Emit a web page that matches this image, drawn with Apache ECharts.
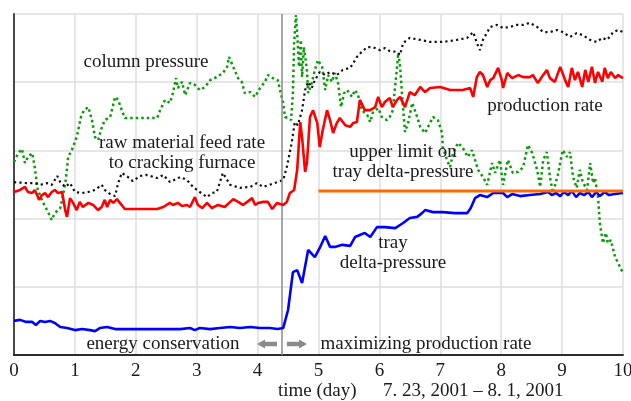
<!DOCTYPE html>
<html>
<head>
<meta charset="utf-8">
<script src="https://cdn.jsdelivr.net/npm/echarts@6/dist/echarts.min.js"></script>
<style>
html,body{margin:0;padding:0;background:#fff;}
#c{width:631px;height:401px;}
</style>
</head>
<body>
<div id="c"></div>
<script>
// x: time (day), y: relative scale 0-100 (no y labels in the original)
var xTicks = [0,1,2,3,4,5,6,7,8,9,10];

var trayDeltaPressure = [[0,10.0],[0.10,10.3],[0.20,9.7],[0.30,9.7],[0.36,8.8],[0.43,10.0],[0.51,9.7],[0.59,10.0],[0.67,9.4],[0.76,8.2],[0.87,7.9],[1.00,7.3],[1.12,7.6],[1.25,7.3],[1.33,7.0],[1.41,7.9],[1.53,8.2],[1.66,7.6],[1.82,7.6],[2.07,7.6],[2.40,7.6],[2.73,7.6],[2.89,7.9],[2.97,7.3],[3.05,7.9],[3.22,7.6],[3.38,7.9],[3.55,8.2],[3.71,7.9],[3.88,8.2],[4.04,7.9],[4.20,7.9],[4.33,7.6],[4.42,7.9],[4.50,13.2],[4.58,24.3],[4.65,24.9],[4.73,21.1],[4.83,30.8],[4.94,28.7],[5.02,31.4],[5.11,34.9],[5.19,31.7],[5.27,31.7],[5.39,32.3],[5.52,32.0],[5.60,34.6],[5.68,35.2],[5.76,35.8],[5.85,34.6],[5.96,37.5],[6.09,37.5],[6.26,37.2],[6.39,38.7],[6.50,40.2],[6.62,40.5],[6.70,41.6],[6.75,42.5],[6.88,41.9],[7.04,41.9],[7.24,41.6],[7.44,41.6],[7.50,43.1],[7.57,46.0],[7.65,46.9],[7.77,46.3],[7.87,47.5],[7.95,47.5],[8.03,47.5],[8.10,46.3],[8.18,47.2],[8.31,46.6],[8.47,46.9],[8.64,47.2],[8.77,47.8],[8.83,46.9],[8.90,47.5],[8.97,46.6],[9.03,47.8],[9.10,46.9],[9.16,48.1],[9.23,46.3],[9.29,47.5],[9.36,46.9],[9.43,47.8],[9.49,46.3],[9.56,47.8],[9.62,46.6],[9.70,47.8],[9.77,46.9],[9.87,47.2],[10.0,47.5]];

var productionRate = [[0,47.8],[0.10,48.4],[0.18,49.3],[0.23,47.8],[0.30,47.5],[0.34,48.4],[0.38,46.9],[0.41,45.5],[0.46,46.9],[0.51,47.5],[0.56,46.3],[0.62,47.8],[0.67,48.4],[0.72,47.5],[0.79,47.8],[0.84,42.5],[0.87,40.5],[0.92,46.0],[0.97,44.6],[1.03,42.5],[1.08,44.9],[1.13,43.4],[1.22,44.6],[1.30,44.0],[1.38,42.5],[1.44,43.4],[1.49,45.5],[1.53,43.4],[1.58,45.5],[1.63,44.6],[1.69,45.7],[1.74,44.6],[1.82,42.8],[2.35,42.8],[2.45,43.4],[2.56,44.6],[2.61,44.0],[2.69,44.6],[2.76,43.7],[2.84,44.0],[2.89,43.4],[2.97,46.3],[3.02,44.0],[3.09,43.1],[3.17,44.6],[3.25,43.1],[3.35,44.0],[3.46,43.4],[3.55,44.9],[3.60,45.7],[3.68,44.9],[3.76,44.0],[3.83,44.9],[3.91,46.0],[3.96,44.0],[4.01,44.6],[4.09,44.9],[4.17,44.9],[4.24,42.8],[4.32,44.6],[4.42,44.0],[4.48,44.9],[4.53,47.5],[4.60,48.4],[4.65,54.3],[4.70,68.3],[4.73,63.9],[4.78,53.7],[4.81,56.3],[4.86,69.8],[4.91,71.8],[4.98,68.0],[5.02,61.0],[5.07,66.0],[5.14,71.8],[5.19,68.9],[5.24,65.1],[5.30,68.0],[5.35,69.5],[5.44,67.4],[5.52,66.9],[5.57,68.0],[5.63,68.3],[5.68,74.8],[5.76,71.8],[5.85,71.8],[5.93,72.7],[5.98,75.7],[6.04,72.7],[6.09,74.2],[6.17,75.4],[6.22,72.7],[6.29,74.8],[6.34,75.7],[6.42,72.7],[6.50,77.1],[6.58,76.2],[6.67,78.6],[6.75,77.1],[6.83,78.3],[7.00,78.6],[7.16,77.7],[7.37,77.7],[7.49,78.3],[7.54,75.7],[7.60,81.5],[7.65,83.0],[7.70,82.1],[7.77,78.6],[7.82,80.6],[7.87,81.2],[7.95,84.2],[8.01,80.6],[8.03,78.3],[8.10,82.7],[8.18,81.2],[8.28,82.1],[8.36,81.5],[8.47,81.5],[8.52,82.1],[8.60,79.8],[8.69,82.1],[8.75,83.6],[8.80,81.2],[8.88,80.1],[8.97,84.5],[9.05,80.6],[9.10,78.6],[9.16,84.2],[9.21,80.6],[9.26,83.0],[9.33,78.6],[9.38,83.6],[9.43,80.1],[9.49,84.5],[9.54,79.8],[9.59,83.0],[9.66,80.1],[9.70,84.2],[9.75,81.2],[9.80,83.0],[9.87,81.2],[9.92,82.1],[10.0,81.2]];

var feedRate = [[0,50.7],[0.21,50.4],[0.34,50.4],[0.43,49.9],[0.54,50.4],[0.62,49.9],[0.71,52.5],[0.76,50.7],[0.84,49.3],[0.92,50.4],[1.00,47.8],[1.12,47.5],[1.22,47.8],[1.33,48.4],[1.44,49.9],[1.49,48.4],[1.58,47.2],[1.66,46.6],[1.71,50.4],[1.77,53.4],[1.87,52.2],[1.95,51.0],[2.07,52.5],[2.18,52.8],[2.35,51.9],[2.45,52.8],[2.56,50.7],[2.73,52.2],[2.84,51.3],[2.94,49.3],[3.05,47.8],[3.17,46.3],[3.25,47.5],[3.33,47.8],[3.43,53.4],[3.55,49.9],[3.71,49.0],[3.88,49.3],[3.99,50.4],[4.09,49.3],[4.20,49.9],[4.32,50.7],[4.42,51.3],[4.48,55.1],[4.56,62.2],[4.61,68.3],[4.66,67.4],[4.73,71.8],[4.78,77.7],[4.83,80.1],[4.89,78.3],[4.94,80.6],[5.02,83.0],[5.11,82.1],[5.19,83.0],[5.30,82.1],[5.40,83.6],[5.52,84.2],[5.57,85.6],[5.63,87.4],[5.71,88.9],[5.80,90.3],[5.89,90.3],[6.01,89.4],[6.09,90.0],[6.17,89.1],[6.29,88.9],[6.34,88.0],[6.39,91.5],[6.50,93.0],[6.67,92.4],[6.83,91.8],[7.04,91.8],[7.27,92.4],[7.44,93.0],[7.54,94.7],[7.60,91.5],[7.65,89.4],[7.70,92.4],[7.82,96.2],[7.93,96.8],[8.03,95.9],[8.14,96.2],[8.26,96.8],[8.36,96.8],[8.47,97.4],[8.59,96.2],[8.69,94.7],[8.80,94.7],[8.92,95.3],[9.01,94.7],[9.13,93.3],[9.24,94.4],[9.34,93.8],[9.46,92.4],[9.57,91.8],[9.66,93.0],[9.74,92.4],[9.84,94.7],[9.92,95.3],[10.0,94.7]];

var columnPressure = [[0,56.6],[0.07,59.2],[0.13,60.4],[0.18,56.3],[0.23,58.1],[0.30,59.2],[0.34,55.1],[0.39,48.4],[0.48,44.6],[0.56,41.9],[0.62,39.6],[0.67,41.6],[0.76,43.1],[0.80,46.3],[0.85,51.3],[0.89,58.1],[0.95,60.1],[1.03,63.9],[1.10,69.8],[1.15,71.8],[1.22,72.7],[1.28,68.9],[1.33,63.9],[1.38,63.0],[1.44,66.6],[1.49,68.9],[1.58,69.8],[1.66,75.7],[1.71,74.8],[1.77,71.8],[1.82,69.5],[2.35,69.5],[2.40,71.8],[2.48,74.8],[2.56,73.9],[2.61,76.8],[2.66,81.2],[2.69,78.3],[2.76,80.1],[2.81,76.2],[2.89,79.8],[2.97,79.2],[3.05,77.7],[3.14,78.6],[3.22,80.6],[3.33,81.5],[3.43,82.7],[3.50,84.5],[3.53,87.4],[3.60,84.5],[3.68,81.2],[3.74,80.1],[3.79,76.8],[3.88,77.1],[3.96,75.7],[4.04,78.3],[4.12,80.1],[4.17,82.1],[4.25,81.2],[4.33,80.6],[4.42,73.9],[4.45,69.8],[4.50,69.5],[4.55,68.9],[4.58,76.8],[4.60,91.5],[4.63,99.7],[4.65,94.4],[4.68,84.5],[4.71,92.4],[4.73,81.5],[4.76,90.3],[4.81,83.6],[4.83,76.8],[4.89,79.8],[4.94,83.6],[4.99,86.5],[5.06,84.5],[5.11,77.7],[5.16,82.1],[5.22,80.1],[5.27,82.7],[5.32,79.8],[5.37,72.7],[5.42,76.8],[5.47,77.7],[5.55,75.7],[5.60,77.7],[5.65,76.2],[5.71,71.8],[5.80,70.4],[5.85,68.3],[5.89,71.0],[5.98,72.4],[6.04,69.8],[6.12,68.9],[6.17,69.8],[6.22,71.8],[6.29,84.5],[6.31,88.6],[6.34,84.5],[6.37,76.8],[6.42,65.4],[6.47,68.0],[6.54,73.9],[6.62,69.8],[6.67,66.9],[6.75,65.1],[6.83,68.0],[6.88,69.8],[6.96,68.9],[7.03,65.1],[7.04,61.0],[7.11,57.2],[7.16,55.1],[7.21,59.2],[7.29,62.2],[7.37,60.7],[7.45,58.1],[7.52,60.1],[7.57,57.2],[7.62,54.3],[7.70,52.2],[7.77,49.9],[7.85,56.3],[7.90,53.4],[7.98,57.2],[8.03,49.9],[8.11,57.2],[8.19,53.4],[8.28,53.7],[8.36,55.1],[8.44,61.6],[8.51,59.2],[8.59,54.3],[8.64,49.3],[8.69,57.2],[8.75,59.5],[8.80,52.2],[8.85,47.5],[8.93,52.8],[9.01,60.1],[9.08,58.1],[9.13,59.5],[9.18,52.2],[9.24,49.0],[9.29,54.3],[9.34,50.7],[9.41,48.4],[9.46,56.3],[9.51,50.4],[9.54,51.9],[9.59,46.3],[9.62,38.7],[9.67,32.8],[9.72,35.8],[9.75,32.8],[9.80,33.7],[9.87,28.7],[9.92,27.0],[10.0,24.0]];

var upperLimit = [[5,48.1],[10,48.1]];
var switchDay = 4.4;

var SERIF = "'Liberation Serif','Times New Roman',serif";
var chart = echarts.init(document.getElementById('c'), null, {renderer:'canvas'});

function lineSeries(name, data, color, width, type, z){
  return {name:name, type:'line', data:data, showSymbol:false, symbol:'none',
    lineStyle:{color:color, width:width, type:type, cap:'butt'}, z:z, animation:false, silent:true};
}

var txt = function(x, y, t, align){
  return {type:'text', x:x, y:y, z:100, silent:true,
    style:{text:t, font:"19px "+SERIF, fill:'#1a1a1a', align:align||'center', verticalAlign:'middle', lineHeight:20}};
};

var option = {
  animation:false,
  backgroundColor:'#fff',
  grid:{left:14, right:8, top:14, bottom:46, show:false, containLabel:false, outerBoundsMode:'none'},
  xAxis:[{
    type:'value', min:0, max:10, interval:1,
    axisLine:{show:true, onZero:false, lineStyle:{color:'#222', width:1.5}},
    axisTick:{show:false},
    axisLabel:{show:true, fontFamily:SERIF, fontSize:19, color:'#1a1a1a', margin:7, hideOverlap:false,
      formatter:function(v){ return xTicks.indexOf(v) >= 0 ? String(v) : ''; }},
    splitLine:{show:true, lineStyle:{color:'#dedede', width:1.5}}
  },{
    type:'value', min:0, max:10, position:'top',
    axisLine:{show:true, lineStyle:{color:'#222', width:1.5}},
    axisTick:{show:false}, axisLabel:{show:false}, splitLine:{show:false}
  }],
  yAxis:[{
    type:'value', min:0, max:100, interval:20,
    axisLine:{show:true, onZero:false, lineStyle:{color:'#222', width:1.5}},
    axisTick:{show:false}, axisLabel:{show:false},
    splitLine:{show:true, lineStyle:{color:'#dedede', width:1.5}}
  },{
    type:'value', min:0, max:100, position:'right',
    axisLine:{show:true, lineStyle:{color:'#444', width:1.5}},
    axisTick:{show:false}, axisLabel:{show:false}, splitLine:{show:false}
  }],
  series:[
    lineSeries('column pressure', columnPressure, '#0a9a0a', 2.5, [2.5,3], 3),
    lineSeries('raw material feed rate', feedRate, '#111', 2.2, [2.2,3.2], 4),
    lineSeries('production rate', productionRate, '#ff0000', 2.6, 'solid', 5),
    lineSeries('tray delta-pressure', trayDeltaPressure, '#0000ff', 2.6, 'solid', 5),
    lineSeries('upper limit', upperLimit, '#ff6a00', 3.2, 'solid', 6),
    {type:'line', data:[], z:2, silent:true,
      markLine:{silent:true, symbol:'none', animation:false, label:{show:false},
        lineStyle:{color:'#8a8a8a', width:1.5, type:'solid'},
        data:[{xAxis:switchDay}]}}
  ],
  graphic:[
    txt(146, 62, 'column pressure'),
    txt(182, 153, 'raw material feed rate\nto cracking furnace'),
    txt(545, 106, 'production rate'),
    txt(403, 162, 'upper limit on\ntray delta-pressure'),
    txt(393, 253, 'tray\ndelta-pressure'),
    txt(163, 344, 'energy conservation'),
    txt(426, 344, 'maximizing production rate'),
    txt(278, 391, 'time (day)', 'left'),
    txt(383, 391, '7. 23, 2001 \u2013 8. 1, 2001', 'left'),
    {type:'polygon', z:100, silent:true, shape:{points:[[257,344],[265,339.5],[265,341.7],[277,341.7],[277,346.3],[265,346.3],[265,348.5]]}, style:{fill:'#8a8a8a'}},
    {type:'polygon', z:100, silent:true, shape:{points:[[307,344],[299,339.5],[299,341.7],[287,341.7],[287,346.3],[299,346.3],[299,348.5]]}, style:{fill:'#8a8a8a'}}
  ]
};
chart.setOption(option);
</script>
</body>
</html>
